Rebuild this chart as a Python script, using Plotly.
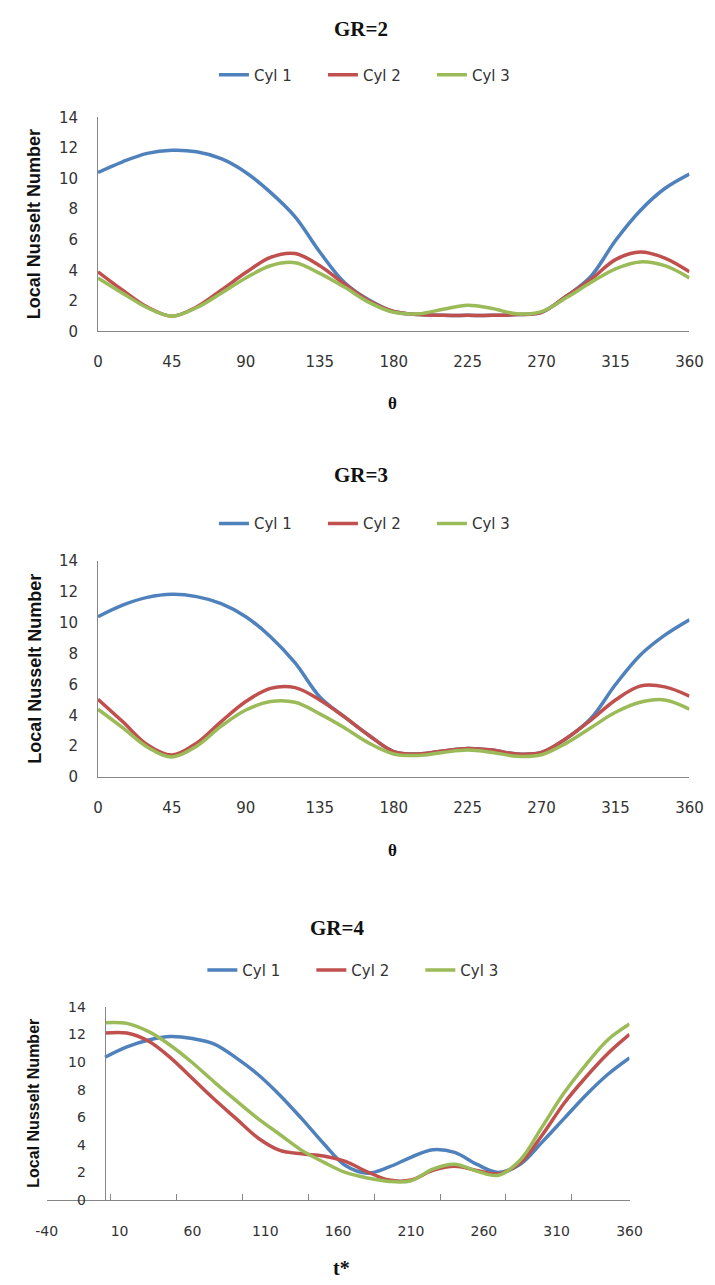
import plotly.graph_objects as go

theta = [0, 15, 30, 45, 60, 75, 90, 105, 120, 135, 150, 165, 180,
         195, 210, 225, 240, 255, 270, 285, 300, 315, 330, 345, 360]

# GR = 2
gr2_cyl1 = [10.4, 11.1, 11.65, 11.85, 11.75, 11.3, 10.4, 9.1, 7.5, 5.2, 3.2, 2.05, 1.3,
            1.1, 1.05, 1.05, 1.05, 1.1, 1.25, 2.3, 3.6, 5.95, 7.9, 9.35, 10.3]
gr2_cyl2 = [3.9, 2.7, 1.6, 1.0, 1.6, 2.7, 3.85, 4.85, 5.1, 4.3, 3.1, 2.0, 1.3,
            1.1, 1.05, 1.05, 1.05, 1.1, 1.25, 2.3, 3.4, 4.7, 5.2, 4.8, 3.9]
gr2_cyl3 = [3.5, 2.5, 1.55, 1.0, 1.55, 2.5, 3.5, 4.3, 4.5, 3.8, 2.9, 1.9, 1.25,
            1.15, 1.45, 1.72, 1.5, 1.15, 1.3, 2.2, 3.2, 4.1, 4.55, 4.3, 3.5]

# GR = 3
gr3_cyl1 = [10.4, 11.15, 11.65, 11.85, 11.7, 11.25, 10.4, 9.1, 7.4, 5.2, 3.9, 2.7, 1.65,
            1.5, 1.7, 1.85, 1.75, 1.5, 1.6, 2.5, 3.8, 6.0, 7.9, 9.2, 10.2]
gr3_cyl2 = [5.05, 3.6, 2.1, 1.43, 2.2, 3.6, 4.9, 5.75, 5.8, 5.0, 3.9, 2.7, 1.65,
            1.5, 1.7, 1.85, 1.75, 1.5, 1.6, 2.5, 3.7, 5.0, 5.9, 5.85, 5.25]
gr3_cyl3 = [4.4, 3.2, 1.95, 1.3, 2.0, 3.3, 4.35, 4.9, 4.85, 4.1, 3.2, 2.2, 1.5,
            1.4, 1.6, 1.75, 1.6, 1.35, 1.45, 2.2, 3.2, 4.2, 4.85, 5.0, 4.4]

# GR = 4
gr4_cyl1 = [10.35, 11.1, 11.6, 11.85, 11.7, 11.3, 10.3, 9.1, 7.6, 5.9, 4.1, 2.5, 1.95,
            2.4, 3.1, 3.65, 3.45, 2.6, 2.0, 2.6, 4.2, 5.9, 7.6, 9.1, 10.3]
gr4_cyl2 = [12.1, 12.1, 11.5, 10.3, 8.8, 7.3, 5.9, 4.5, 3.6, 3.35, 3.2, 2.8, 2.05,
            1.45, 1.45, 2.15, 2.45, 2.15, 1.9, 2.7, 4.7, 7.0, 8.9, 10.6, 12.0]
gr4_cyl3 = [12.85, 12.8, 12.2, 11.2, 9.95, 8.55, 7.2, 5.9, 4.75, 3.6, 2.75, 2.0, 1.6,
            1.35, 1.4, 2.25, 2.6, 2.1, 1.8, 2.9, 5.3, 7.75, 9.8, 11.6, 12.75]

names = ["Cyl 1", "Cyl 2", "Cyl 3"]
colors = ["#4F81BD", "#C0504D", "#9BBB59"]
titles = ["GR=2", "GR=3", "GR=4"]
xtitles = ["θ", "θ", "t*"]
top_ticks = [0, 45, 90, 135, 180, 225, 270, 315, 360]
bottom_ticks = [-40, 10, 60, 110, 160, 210, 260, 310, 360]
bottom_tick_labels = ["-40", "10", "60", "110", "160", "210", "260", "310", "360"]

panels = [
    (gr2_cyl1, gr2_cyl2, gr2_cyl3),
    (gr3_cyl1, gr3_cyl2, gr3_cyl3),
    (gr4_cyl1, gr4_cyl2, gr4_cyl3),
]

W, H = 715, 1285
def px(v):
    return v / W
def py(v):
    return 1 - v / H

fig = go.Figure()
legends = ["legend", "legend2", "legend3"]
for p, series in enumerate(panels):
    ax = "" if p == 0 else str(p + 1)
    for i, ys in enumerate(series):
        fig.add_trace(go.Scatter(
            x=theta, y=ys, mode="lines", name=names[i],
            line=dict(color=colors[i], width=3.5, shape="spline", smoothing=1.0),
            xaxis="x" + ax, yaxis="y" + ax, legend=legends[p],
            showlegend=True,
        ))

axis_color = "#868686"
tick_font = dict(family="DejaVu Sans", size=15, color="#333333")
tick_font_b = dict(family="DejaVu Sans", size=14, color="#333333")

# panel geometry (pixels)
top_geo = [(90, 702, 110, 327), (90, 702, 560, 779)]
layout = dict(
    width=W, height=H, margin=dict(l=0, r=0, t=0, b=0),
    paper_bgcolor="white", plot_bgcolor="white",
)
for p in range(2):
    x0, x1, y0, y1 = top_geo[p]
    ax = "" if p == 0 else str(p + 1)
    layout["xaxis" + ax] = dict(
        domain=[px(x0), px(x1)], range=[0, 360], tickvals=top_ticks,
        showline=True, linecolor=axis_color, linewidth=1, showgrid=False,
        zeroline=False, ticks="", tickfont=tick_font, ticklabelstandoff=17,
        anchor="y" + ax,
    )
    layout["yaxis" + ax] = dict(
        domain=[py(y1), py(y0)], range=[0, 14], dtick=2,
        showline=True, linecolor=axis_color, linewidth=1, showgrid=False,
        zeroline=False, ticks="", tickfont=tick_font, ticklabelstandoff=16,
        anchor="x" + ax,
    )

bx0, bx1, by0, by1 = 37, 640, 1012, 1208
layout["xaxis3"] = dict(
    domain=[px(bx0), px(bx1)], range=[-40, 360], tickvals=bottom_ticks,
    ticktext=bottom_tick_labels,
    showline=True, linecolor=axis_color, linewidth=1, showgrid=False,
    zeroline=False, ticks="", tickfont=tick_font_b, ticklabelstandoff=18,
    minor=dict(ticks="inside", ticklen=6, tickcolor=axis_color, tick0=4, dtick=45.2),
    anchor="y3",
)
layout["yaxis3"] = dict(
    domain=[py(by1), py(by0)], range=[0, 14], dtick=2,
    showline=True, linecolor=axis_color, linewidth=1, showgrid=False,
    zeroline=False, ticks="", tickfont=tick_font_b, ticklabelstandoff=16,
    anchor="free", position=px(97),
)

leg_font = dict(family="DejaVu Sans", size=15, color="#333333")
leg_pos = [(210, 67), (210, 522), (198, 975)]
for p in range(3):
    lx, ly = leg_pos[p]
    layout[legends[p]] = dict(
        orientation="h", x=px(lx), y=py(ly), xanchor="left", yanchor="middle",
        font=leg_font, bgcolor="rgba(0,0,0,0)", entrywidth=64, entrywidthmode="pixels",
        tracegroupgap=0,
    )

fig.update_layout(**layout)

title_font = dict(family="Liberation Serif", size=21, color="#111111")
title_pos = [(362, 20), (362, 473), (337, 932)]
xt_pos = [(395, 400), (395, 853), (342, 1277)]
yt_pos = [(24, 218, 18), (24, 669, 18), (23, 1110, 16)]
for p in range(3):
    tx, ty = title_pos[p]
    fig.add_annotation(text="<b>" + titles[p] + "</b>", x=px(tx), y=py(ty),
                       xref="paper", yref="paper", showarrow=False,
                       xanchor="center", yanchor="middle", font=title_font)
    xx, xy = xt_pos[p]
    fig.add_annotation(text="<b>" + xtitles[p] + "</b>", x=px(xx), y=py(xy),
                       xref="paper", yref="paper", showarrow=False,
                       xanchor="center", yanchor="middle",
                       font=dict(family="Liberation Serif", size=17 if p < 2 else 20, color="#111111"))
    yx, yy, fs = yt_pos[p]
    fig.add_annotation(text="<b>Local Nusselt Number</b>", x=px(yx), y=py(yy),
                       xref="paper", yref="paper", showarrow=False, textangle=-90,
                       xanchor="center", yanchor="middle",
                       font=dict(family="Liberation Sans", size=fs, color="#111111"))

fig.write_html("out.html")
